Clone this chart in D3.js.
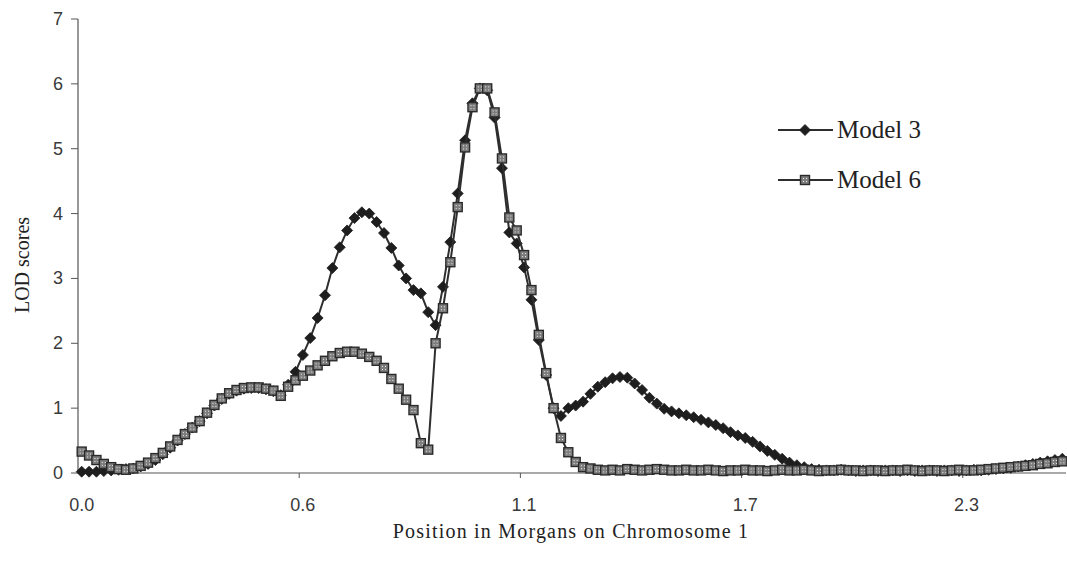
<!DOCTYPE html>
<html lang="en">
<head>
<meta charset="utf-8">
<script src="https://d3js.org/d3.v7.min.js"></script>
<style>
  body { margin: 0; background: #fff; }
  .tick-label { font-family: "Liberation Sans", Arial, sans-serif; font-size: 18px; fill: #3a3a3a; }
  .title { font-family: "Liberation Serif", "Times New Roman", serif; fill: #222; }
  .legend { font-family: "Liberation Serif", "Times New Roman", serif; font-size: 25px; fill: #222; }
</style>
</head>
<body>
<script>
// positions (Morgans) of the 134 categories on the x axis
var positions = [0,0.019,0.038,0.057,0.076,0.095,0.114,0.133,0.152,0.171,0.19,0.209,0.228,0.247,0.266,0.285,0.304,0.323,0.342,0.361,
  0.38,0.399,0.418,0.437,0.456,0.475,0.494,0.513,0.532,0.551,0.57,0.589,0.608,0.627,0.646,0.665,0.684,0.703,0.722,0.741,
  0.76,0.779,0.798,0.817,0.836,0.855,0.874,0.893,0.912,0.931,0.95,0.969,0.988,1.007,1.026,1.045,1.064,1.083,1.102,1.121,
  1.14,1.159,1.178,1.197,1.216,1.235,1.254,1.273,1.292,1.311,1.33,1.349,1.368,1.387,1.406,1.425,1.444,1.463,1.482,1.501,
  1.52,1.539,1.558,1.577,1.596,1.615,1.634,1.653,1.672,1.691,1.71,1.729,1.748,1.767,1.786,1.805,1.824,1.843,1.862,1.881,
  1.9,1.919,1.938,1.957,1.976,1.995,2.014,2.033,2.052,2.071,2.09,2.109,2.128,2.147,2.166,2.185,2.204,2.223,2.242,2.261,
  2.28,2.299,2.318,2.337,2.356,2.375,2.394,2.413,2.432,2.451,2.47,2.489,2.508,2.527];

var model3 = [0.02,0.02,0.02,0.03,0.04,0.05,0.06,0.07,0.1,0.14,
  0.2,0.29,0.39,0.5,0.6,0.7,0.8,0.92,1.04,1.14,1.22,1.27,1.3,1.31,1.31,1.29,1.26,1.2,
  1.36,1.56,1.82,2.08,2.39,2.74,3.16,3.48,3.74,3.93,4.02,4.0,3.87,3.7,3.47,3.2,3.0,2.82,2.77,2.48,2.28,
  2.87,3.56,4.31,5.13,5.7,5.93,5.9,5.48,4.7,3.71,3.54,3.17,2.67,2.05,1.51,1.0,0.88,1.0,1.04,1.1,1.22,
  1.33,1.4,1.46,1.48,1.47,1.38,1.28,1.16,1.07,0.99,0.95,0.92,0.89,0.86,0.82,0.78,0.74,0.69,0.63,0.58,
  0.54,0.48,0.41,0.34,0.28,0.22,0.16,0.12,0.09,0.06,
  0.05,0.04,0.04,0.05,0.04,0.03,0.04,0.04,0.03,0.04,0.04,0.03,0.04,0.03,0.04,0.04,0.03,0.04,0.04,0.03,
  0.04,0.05,0.04,0.05,0.06,0.07,0.08,0.1,0.12,0.14,0.16,0.18,0.2,0.22];

var model6 = [0.33,0.27,0.2,0.14,0.09,0.06,0.05,0.07,0.11,0.16,0.23,0.31,0.41,0.51,0.6,0.7,0.8,0.93,1.05,1.15,
  1.23,1.28,1.31,1.32,1.32,1.3,1.27,1.19,
  1.33,1.43,1.5,1.58,1.66,1.73,1.8,1.85,1.87,1.87,1.84,1.79,1.73,1.62,1.45,1.3,1.13,0.97,0.46,0.36,
  2.0,2.54,3.25,4.1,5.02,5.64,5.93,5.93,5.56,4.85,3.94,3.74,3.36,2.82,2.13,1.54,1.0,0.54,0.32,0.17,0.09,0.07,
  0.05,0.04,0.05,0.04,0.06,0.05,0.04,0.05,0.06,0.05,
  0.04,0.04,0.05,0.04,0.04,0.05,0.04,0.03,0.04,0.04,
  0.05,0.04,0.04,0.03,0.04,0.05,0.04,0.04,0.05,0.04,
  0.03,0.04,0.04,0.05,0.04,0.04,0.03,0.04,0.04,0.03,
  0.04,0.04,0.05,0.04,0.03,0.04,0.04,0.03,0.04,0.05,
  0.04,0.04,0.05,0.06,0.07,0.08,
  0.09,0.1,0.11,0.12,0.14,0.15,0.17,0.18];

var yTicks = [0, 1, 2, 3, 4, 5, 6, 7];
var labelEvery = 30; // a label every 30 categories
var seriesNames = ["Model 3", "Model 6"];

var w = 1067, h = 562;
var svg = d3.select("body").append("svg").attr("width", w).attr("height", h);

var defs = svg.append("defs");
var pat = defs.append("pattern").attr("id", "sqfill")
  .attr("width", 3).attr("height", 3).attr("patternUnits", "userSpaceOnUse");
pat.append("rect").attr("width", 3).attr("height", 3).attr("fill", "#7d7d7d");
pat.append("rect").attr("x", 1).attr("y", 1).attr("width", 1).attr("height", 1).attr("fill", "#eeeeee");

// plot box (window.top is reserved, so use other names)
var plotLeft = 78, plotRight = 1066, plotTop = 19, plotBottom = 473;

var x = d3.scaleBand().domain(positions).range([plotLeft, plotRight]).paddingInner(0).paddingOuter(0);
var y = d3.scaleLinear().domain([0, 7]).range([plotBottom, plotTop]);
var cx = function (d, i) { return x(positions[i]) + x.bandwidth() / 2; };

// axes
var axisColor = "#555";
svg.append("line").attr("x1", plotLeft).attr("x2", plotLeft).attr("y1", plotTop).attr("y2", plotBottom)
  .attr("stroke", axisColor).attr("stroke-width", 1.2);
svg.append("line").attr("x1", plotLeft).attr("x2", plotRight).attr("y1", plotBottom).attr("y2", plotBottom)
  .attr("stroke", axisColor).attr("stroke-width", 1.2);

svg.selectAll("line.ytick").data(yTicks).enter().append("line")
  .attr("class", "ytick")
  .attr("x1", plotLeft - 7).attr("x2", plotLeft)
  .attr("y1", function (d) { return y(d); }).attr("y2", function (d) { return y(d); })
  .attr("stroke", axisColor);
svg.selectAll("text.ylab").data(yTicks).enter().append("text")
  .attr("class", "tick-label ylab")
  .attr("x", 63).attr("y", function (d) { return y(d) + 6; })
  .attr("text-anchor", "end")
  .text(function (d) { return d; });

var labelIdx = positions.map(function (p, i) { return i; }).filter(function (i) { return i % labelEvery === 0; });
svg.selectAll("line.xtick").data(labelIdx.slice(1)).enter().append("line")
  .attr("class", "xtick")
  .attr("x1", function (i) { return x(positions[i]); }).attr("x2", function (i) { return x(positions[i]); })
  .attr("y1", plotBottom).attr("y2", plotBottom + 5)
  .attr("stroke", axisColor);
svg.selectAll("text.xlab").data(labelIdx).enter().append("text")
  .attr("class", "tick-label xlab")
  .attr("x", function (i) { return x(positions[i]) + x.bandwidth() / 2; })
  .attr("y", 511)
  .attr("text-anchor", "middle")
  .text(function (i) { return d3.format(".1f")(positions[i]); });

svg.append("text").attr("class", "title")
  .attr("transform", "translate(29,265) rotate(-90)")
  .attr("text-anchor", "middle")
  .style("font-size", "20px")
  .text("LOD scores");
svg.append("text").attr("class", "title")
  .attr("x", 571).attr("y", 538)
  .attr("text-anchor", "middle")
  .style("font-size", "20px").style("letter-spacing", "1.2px")
  .text("Position in Morgans on Chromosome 1");

// series
var line = d3.line().x(cx).y(function (d) { return y(d); });
var lineColor = "#2e2e2e";

function diamond(sel) {
  sel.attr("d", "M0,-5.5L5.5,0L0,5.5L-5.5,0Z").attr("fill", "#1e1e1e").attr("stroke", "#1e1e1e").attr("stroke-width", 0.8);
}
function square(sel) {
  sel.attr("x", -4.5).attr("y", -4.5).attr("width", 9).attr("height", 9)
    .attr("fill", "url(#sqfill)").attr("stroke", "#2a2a2a").attr("stroke-width", 1.4);
}

svg.append("path").datum(model3).attr("d", line).attr("fill", "none")
  .attr("stroke", lineColor).attr("stroke-width", 2);
svg.selectAll("path.m3").data(model3).enter().append("path")
  .attr("class", "m3")
  .attr("transform", function (d, i) { return "translate(" + cx(d, i) + "," + y(d) + ")"; })
  .call(diamond);

svg.append("path").datum(model6).attr("d", line).attr("fill", "none")
  .attr("stroke", lineColor).attr("stroke-width", 2);
svg.selectAll("rect.m6").data(model6).enter().append("rect")
  .attr("class", "m6")
  .attr("transform", function (d, i) { return "translate(" + cx(d, i) + "," + y(d) + ")"; })
  .call(square);

// legend
var lg = svg.append("g");
[130, 180].forEach(function (ly, k) {
  lg.append("line").attr("x1", 778).attr("x2", 833).attr("y1", ly).attr("y2", ly)
    .attr("stroke", lineColor).attr("stroke-width", 2);
  if (k === 0) {
    lg.append("path").attr("transform", "translate(805," + ly + ")").call(diamond);
  } else {
    lg.append("rect").attr("transform", "translate(805," + ly + ")").call(square);
  }
  lg.append("text").attr("class", "legend").attr("x", 837).attr("y", ly + 8).text(seriesNames[k]);
});
</script>
</body>
</html>
